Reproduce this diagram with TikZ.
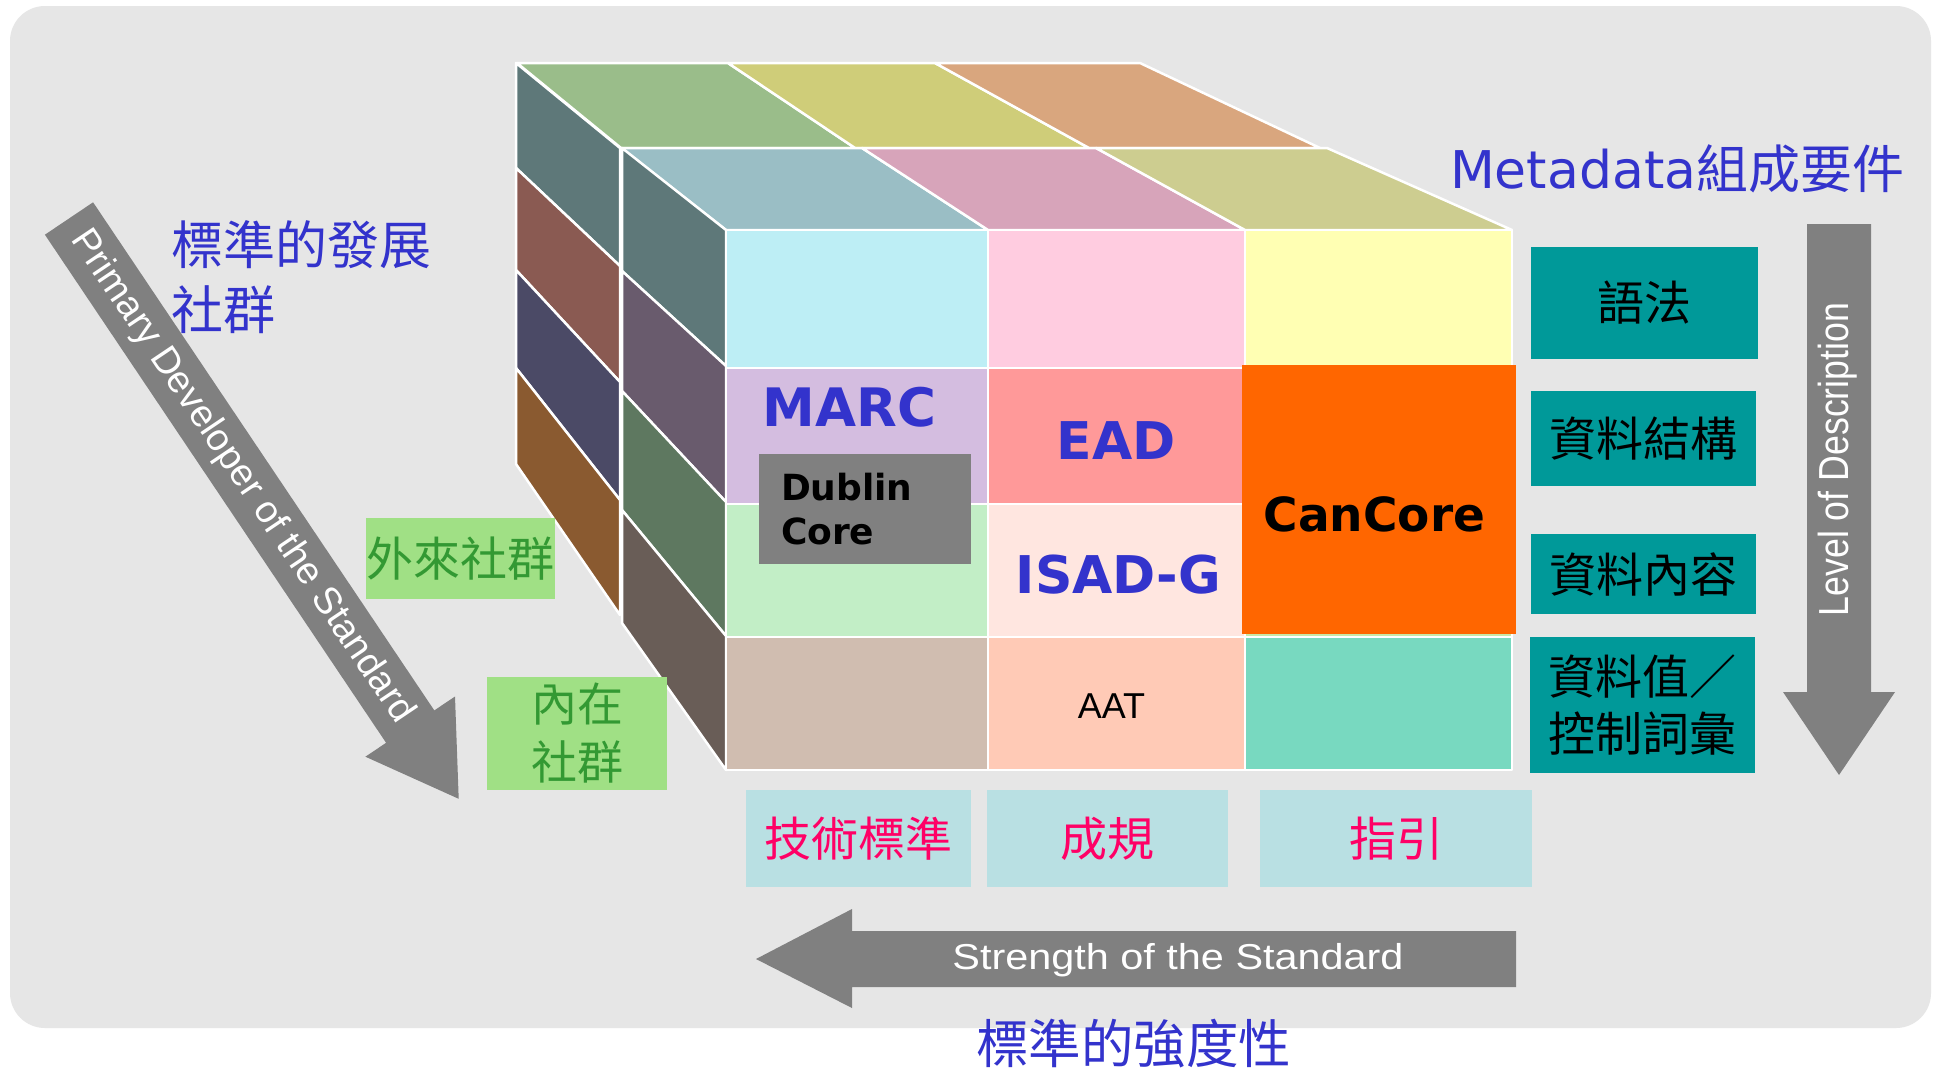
\documentclass[tikz,border=0pt]{standalone}
\usepackage{fontspec}
\setmainfont{Liberation Sans}
\newfontfamily\cjk{Noto Sans CJK TC}
\newfontfamily\dv{DejaVu Sans}
\newfontfamily\narrowf[FakeStretch=0.85]{Liberation Sans}
\newfontfamily\widef[FakeStretch=1.15]{Liberation Sans}
\newcommand\myfs[2]{\fontsize{#1}{#2}\selectfont}
\definecolor{cBg}{HTML}{E6E6E6}
\definecolor{cArrow}{HTML}{808080}
\definecolor{cBlue}{HTML}{3333CC}
\definecolor{cBT1}{HTML}{9ABD8A}
\definecolor{cBT2}{HTML}{CFCD79}
\definecolor{cBT3}{HTML}{D9A67E}
\definecolor{cFT1}{HTML}{9ABEC5}
\definecolor{cFT2}{HTML}{D7A4BA}
\definecolor{cFT3}{HTML}{CDCD90}
\definecolor{cO1}{HTML}{5E7879}
\definecolor{cO2}{HTML}{8A5A52}
\definecolor{cO3}{HTML}{4B4A66}
\definecolor{cO4}{HTML}{8A5A30}
\definecolor{cI1}{HTML}{5E7879}
\definecolor{cI2}{HTML}{695B6D}
\definecolor{cI3}{HTML}{5E7860}
\definecolor{cI4}{HTML}{695D57}
\definecolor{cF11}{HTML}{BDEEF5}
\definecolor{cF12}{HTML}{FFCCE0}
\definecolor{cF13}{HTML}{FFFFB3}
\definecolor{cF21}{HTML}{D4BDE0}
\definecolor{cF22}{HTML}{FF9999}
\definecolor{cF31}{HTML}{C2EEC6}
\definecolor{cF32}{HTML}{FFE6E0}
\definecolor{cF33}{HTML}{C8E8A8}
\definecolor{cF41}{HTML}{D0BDB0}
\definecolor{cF42}{HTML}{FFCAB6}
\definecolor{cF43}{HTML}{78D9C0}
\definecolor{cOrange}{HTML}{FF6600}
\definecolor{cGray}{HTML}{808080}
\definecolor{cTeal}{HTML}{009999}
\definecolor{cGreenBox}{HTML}{A0E085}
\definecolor{cGreenTxt}{HTML}{339933}
\definecolor{cBlueBox}{HTML}{B9E0E3}
\definecolor{cMagenta}{HTML}{FF0066}
\begin{document}
\begin{tikzpicture}[x=1pt,y=-1pt,
  cell/.style={draw=white, line width=2.5pt, line join=round},
  lbl/.style={inner sep=0pt, outer sep=0pt},
  tealbx/.style={fill=cTeal, inner sep=0pt, text=black, font=\cjk\myfs{47}{57}, align=center},
  greenbx/.style={fill=cGreenBox, inner sep=0pt, text=cGreenTxt, font=\cjk\myfs{47}{58}, align=center},
  bluebx/.style={fill=cBlueBox, inner sep=0pt, text=cMagenta, font=\cjk\myfs{47}{57}},
  stdlbl/.style={lbl, text=cBlue, font=\dv\bfseries\myfs{52}{60}}
]
\useasboundingbox (0,0) rectangle (1937,1071);
\fill[white] (0,0) rectangle (1937,1071);
\fill[cBg, rounded corners=35pt] (10,6) rectangle (1931,1028);

% ---- cube: back top row
\filldraw[cell, fill=cBT1] (517,63) -- (728,63) -- (855,148) -- (621,148) -- cycle;
\filldraw[cell, fill=cBT2] (728,63) -- (935,63) -- (1089,148) -- (855,148) -- cycle;
\filldraw[cell, fill=cBT3] (935,63) -- (1140,63) -- (1320,148) -- (1089,148) -- cycle;
% front top row
\filldraw[cell, fill=cFT1] (621,148) -- (862,148) -- (988,230) -- (726,230) -- cycle;
\filldraw[cell, fill=cFT2] (862,148) -- (1096,148) -- (1245,230) -- (988,230) -- cycle;
\filldraw[cell, fill=cFT3] (1096,148) -- (1327,148) -- (1512,230) -- (1245,230) -- cycle;
% outer side column
\filldraw[cell, fill=cO1] (516,63) -- (620,148) -- (620,266) -- (516,168) -- cycle;
\filldraw[cell, fill=cO2] (516,168) -- (620,266) -- (620,382) -- (516,270) -- cycle;
\filldraw[cell, fill=cO3] (516,270) -- (620,382) -- (620,500) -- (516,368) -- cycle;
\filldraw[cell, fill=cO4] (516,368) -- (620,500) -- (620,615) -- (516,464) -- cycle;
% inner side column
\filldraw[cell, fill=cI1] (622,148) -- (726,230) -- (726,366) -- (622,271) -- cycle;
\filldraw[cell, fill=cI2] (622,271) -- (726,366) -- (726,502) -- (622,391) -- cycle;
\filldraw[cell, fill=cI3] (622,391) -- (726,502) -- (726,636) -- (622,510) -- cycle;
\filldraw[cell, fill=cI4] (622,510) -- (726,636) -- (726,770) -- (622,623) -- cycle;
% front face
\filldraw[cell, fill=cF11] (726,230) rectangle (988,368);
\filldraw[cell, fill=cF12] (988,230) rectangle (1245,368);
\filldraw[cell, fill=cF13] (1245,230) rectangle (1512,368);
\filldraw[cell, fill=cF21] (726,368) rectangle (988,504);
\filldraw[cell, fill=cF22] (988,368) rectangle (1245,504);
\filldraw[cell, fill=cF13] (1245,368) rectangle (1512,504);
\filldraw[cell, fill=cF31] (726,504) rectangle (988,637);
\filldraw[cell, fill=cF32] (988,504) rectangle (1245,637);
\filldraw[cell, fill=cF33] (1245,504) rectangle (1512,637);
\filldraw[cell, fill=cF41] (726,637) rectangle (988,770);
\filldraw[cell, fill=cF42] (988,637) rectangle (1245,770);
\filldraw[cell, fill=cF43] (1245,637) rectangle (1512,770);

% overlays
\node[fill=cOrange, minimum width=274pt, minimum height=269pt, inner sep=0pt] (cbox) at (1379,499.5) {};
\node[lbl, font=\dv\bfseries\myfs{47}{54}] (cancore) at (1374.5,514) {CanCore};
\node[stdlbl, font=\dv\bfseries\myfs{53}{60}] (marc) at (849.5,407.5) {MARC};
\node[fill=cGray, inner xsep=22pt, inner ysep=0pt, text width=168pt, minimum height=110pt, align=left, font=\dv\bfseries\myfs{36}{44}] (dc) at (865,509) {Dublin\\Core};
\node[stdlbl] (ead) at (1116,441) {EAD};
\node[stdlbl] (isad) at (1118.5,575) {ISAD-G};
\node[lbl, font=\myfs{36}{40}] (aat) at (1111.5,706.5) {AAT};

% ---- right side: components
\node[tealbx, minimum width=227pt, minimum height=111.5pt] (syn) at (1644.5,302.75) {語法};
\node[tealbx, minimum width=225pt, minimum height=95pt] (struct) at (1643.5,438.5) {資料結構};
\node[tealbx, minimum width=225pt, minimum height=80pt] (cont) at (1643.5,574) {資料內容};
\node[tealbx, minimum width=225pt, minimum height=136pt] (val) at (1642.5,705) {資料值／\\控制詞彙};

\fill[cArrow] (1807,224) -- (1871,224) -- (1871,692) -- (1895,692) -- (1839,775) -- (1783,692) -- (1807,692) -- cycle;
\node[lbl, rotate=90, text=white, font=\narrowf\myfs{42}{46}] (lod) at (1837.5,459.5) {Level of Description};
\node[lbl, anchor=base west, text=cBlue, font=\myfs{52}{60}] (mdc) at (1450,188) {{\dv Metadata}{\cjk 組成要件}};

% ---- left side: developer
\fill[cArrow] (93.1,202.3) -- (434.3,710.4) -- (455.0,696.5) -- (458.7,798.8) -- (365.4,756.7) -- (386.1,742.8) -- (44.9,234.7) -- cycle;
\node[lbl, rotate=-56.1, text=white, font=\myfs{38}{42}] (pds) at (242,477) {Primary Developer of the Standard};
\node[lbl, anchor=west, align=left, text=cBlue, font=\cjk\myfs{52}{65}] (devc) at (171,277) {標準的發展\\社群};
\node[greenbx, minimum width=189pt, minimum height=81pt] (ext) at (460.5,558.5) {外來社群};
\node[greenbx, minimum width=180pt, minimum height=113pt, font=\cjk\myfs{46}{58}] (int) at (577,733.5) {內在\\社群};

% ---- bottom: strength
\node[bluebx, minimum width=225pt, minimum height=97pt] (tech) at (858.5,838.5) {技術標準};
\node[bluebx, minimum width=241pt, minimum height=97pt] (conv) at (1107.5,838.5) {成規};
\node[bluebx, minimum width=272pt, minimum height=97pt] (guide) at (1396,838.5) {指引};
\fill[cArrow] (1516,931) -- (1516,987) -- (852,987) -- (852,1008) -- (756,959) -- (852,909) -- (852,931) -- cycle;
\node[lbl, text=white, font=\widef\myfs{36}{42}] (sos) at (1178,960) {Strength of the Standard};
\node[lbl, text=cBlue, font=\cjk\myfs{52.5}{60}] (strc) at (1133.5,1043.5) {標準的強度性};
\end{tikzpicture}
\end{document}
